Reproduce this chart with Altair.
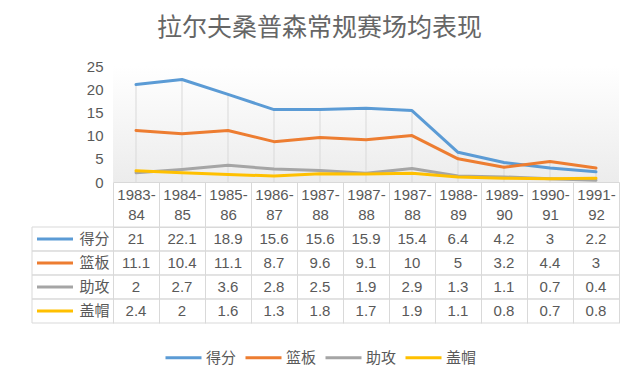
import altair as alt
import pandas as pd

seasons = ["1983-84", "1984-85", "1985-86", "1986-87", "1987-88", "1987-88",
           "1987-88", "1988-89", "1989-90", "1990-91", "1991-92"]
series_names = ["得分", "篮板", "助攻", "盖帽"]
points = [21, 22.1, 18.9, 15.6, 15.6, 15.9, 15.4, 6.4, 4.2, 3, 2.2]
rebounds = [11.1, 10.4, 11.1, 8.7, 9.6, 9.1, 10, 5, 3.2, 4.4, 3]
assists = [2, 2.7, 3.6, 2.8, 2.5, 1.9, 2.9, 1.3, 1.1, 0.7, 0.4]
blocks = [2.4, 2, 1.6, 1.3, 1.8, 1.7, 1.9, 1.1, 0.8, 0.7, 0.8]
y_ticks = [0, 5, 10, 15, 20, 25]
colors = ["#5B9BD5", "#ED7D31", "#A5A5A5", "#FFC000"]

rows = []
for name, vals in zip(series_names, [points, rebounds, assists, blocks]):
    for i, v in enumerate(vals):
        rows.append({"i": i, "series": name, "value": v, "label": f"{v:g}"})
df = pd.DataFrame(rows)
drop = pd.DataFrame({
    "i": list(range(len(seasons))),
    "top": [max(a, b, c, d) for a, b, c, d in zip(points, rebounds, assists, blocks)],
    "zero": [0] * len(seasons),
})
ser_df = pd.DataFrame({"series": series_names})

W, H, TH = 506, 116, 96
FONT = "Liberation Sans, Noto Sans CJK SC, sans-serif"
TXT = "#595959"
GRID = "#d9d9d9"

color_scale = alt.Scale(domain=series_names, range=colors)
x_scale = alt.Scale(type="band", domain=list(range(len(seasons))), paddingInner=0, paddingOuter=0)
y_scale = alt.Scale(domain=[0, 25], nice=False)
y_axis = alt.Axis(values=y_ticks, tickCount=6, domain=False, ticks=False, tickSize=0, grid=False,
                  labelOverlap=False, labelFontSize=15, labelColor=TXT,
                  labelPadding=10, title=None)
x_axis_top = alt.Axis(labels=False, ticks=False, domain=True, domainColor=GRID,
                      grid=False, title=None)

# ---------- top line chart ----------
bg = alt.Chart(pd.DataFrame({"a": [0]})).mark_rect(
    fill=alt.Gradient(gradient="linear",
                      stops=[alt.GradientStop(color="#ffffff", offset=0),
                             alt.GradientStop(color="#ececec", offset=1)],
                      x1=0, x2=0, y1=0, y2=1)
).encode(x=alt.value(0), x2=alt.value(W), y=alt.value(0), y2=alt.value(H))

drops = alt.Chart(drop).mark_rule(color=GRID, strokeWidth=1).encode(
    x=alt.X("i:O", scale=x_scale, axis=x_axis_top),
    y=alt.Y("top:Q", scale=y_scale, axis=y_axis),
    y2="zero:Q")

lines = alt.Chart(df).mark_line(strokeWidth=3, strokeJoin="round", strokeCap="round").encode(
    x=alt.X("i:O", scale=x_scale, axis=x_axis_top),
    y=alt.Y("value:Q", scale=y_scale, axis=y_axis),
    color=alt.Color("series:N", scale=color_scale, sort=series_names,
                    legend=alt.Legend(orient="none", legendX=51, legendY=272,
                                      direction="horizontal", title=None,
                                      symbolType="stroke", symbolSize=1296,
                                      symbolStrokeWidth=3, labelFontSize=15,
                                      labelColor=TXT, labelOffset=3, columnPadding=2)),
    order=alt.Order("i:Q"),
)

top = alt.layer(bg, drops, lines).properties(width=W, height=H)

# ---------- data table ----------
label_expr = "[" + ",".join(
    "['%s-','%s']" % tuple(s.split("-")) for s in seasons) + "][datum.value]"

x_tab = alt.X("i:O", scale=x_scale,
              axis=alt.Axis(orient="top", labelExpr=label_expr, tickBand="extent",
                            tickSize=45, tickColor=GRID, domainColor=GRID,
                            labelPadding=-20, labelFontSize=15, labelColor=TXT,
                            labelAngle=0, labelLineHeight=20, labelOverlap=False,
                            labelFlush=False, grid=True, gridColor=GRID, title=None))
y_scale_tab = alt.Scale(type="band", domain=series_names, paddingInner=0, paddingOuter=0)
y_tab = alt.Y("series:N", scale=y_scale_tab, sort=series_names,
              axis=alt.Axis(title=None, domain=False, ticks=False, tickSize=0, grid=False,
                            labelFontSize=15, labelColor=TXT, labelPadding=4))

values = alt.Chart(df).mark_text(fontSize=15, color=TXT).encode(
    x=x_tab, y=y_tab, text="label:N")

row_top = alt.Chart(ser_df).mark_rule(color=GRID, strokeWidth=1).encode(
    y=alt.Y("series:N", scale=y_scale_tab, bandPosition=0),
    x=alt.value(-81), x2=alt.value(W))
row_bot = alt.Chart(ser_df).mark_rule(color=GRID, strokeWidth=1).encode(
    y=alt.Y("series:N", scale=y_scale_tab, bandPosition=1),
    x=alt.value(-81), x2=alt.value(W))
left_border = alt.Chart(pd.DataFrame({"a": [0]})).mark_rule(color=GRID, strokeWidth=1).encode(
    x=alt.value(-81), y=alt.value(0), y2=alt.value(TH))
keys = alt.Chart(ser_df).mark_rule(strokeWidth=3).encode(
    y=alt.Y("series:N", scale=y_scale_tab),
    x=alt.value(-76), x2=alt.value(-40),
    color=alt.Color("series:N", scale=color_scale, legend=None))

table = alt.layer(row_top, row_bot, left_border, values, keys).properties(width=W, height=TH)

chart = alt.vconcat(top, table, spacing=45, bounds="flush").properties(
    title=alt.Title("拉尔夫桑普森常规赛场均表现", fontSize=25, color="#666666",
                    fontWeight="normal", font="Noto Sans CJK SC", offset=18,
                    anchor="middle", dx=-6),
    padding={"left": 23, "top": 8, "right": 5, "bottom": 5},
    background="white",
).configure(font=FONT).configure_view(stroke=None)

chart.save("out.html", embed_options={"renderer": "svg", "actions": False})
